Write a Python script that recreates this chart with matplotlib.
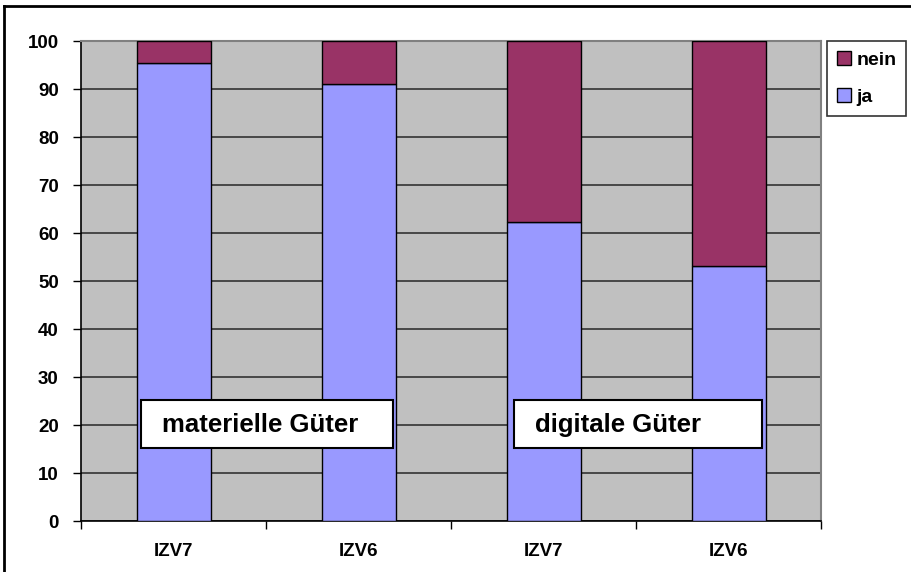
import matplotlib
matplotlib.use("Agg")
import matplotlib.pyplot as plt
from matplotlib.patches import Patch
from matplotlib.lines import Line2D
import numpy as np

categories = ["IZV7", "IZV6", "IZV7", "IZV6"]
ja = [95.4, 91.0, 62.2, 53.2]
nein = [100 - v for v in ja]
box_labels = ["materielle Güter", "digitale Güter"]

C_JA = "#9999FF"
C_NEIN = "#993366"

plt.rcParams["font.family"] = ["Liberation Sans", "DejaVu Sans"]
plt.rcParams["font.weight"] = "bold"

fig = plt.figure(figsize=(9.11, 5.72), dpi=100)
ax = fig.add_axes([81 / 911, 51 / 572, 740 / 911, 480 / 572])
ax.set_facecolor("#C0C0C0")

x = np.arange(len(categories))
ax.bar(x, ja, width=0.4, color=C_JA, edgecolor="black", linewidth=1, zorder=3)
ax.bar(x, nein, width=0.4, bottom=ja, color=C_NEIN, edgecolor="black", linewidth=1, zorder=3)

ax.set_xlim(-0.5, len(categories) - 0.5)
ax.set_ylim(0, 100)
ax.set_yticks(range(0, 101, 10))
ax.yaxis.grid(True, color="#333333", linewidth=1.2, zorder=1)
ax.set_axisbelow(True)

ax.set_xticks(x)
ax.set_xticklabels(categories, fontsize=13.5, fontweight="bold")
ax.set_xticks(np.arange(-0.5, len(categories)), minor=True)
ax.tick_params(axis="x", which="major", length=0, pad=16)
ax.tick_params(axis="x", which="minor", length=6, width=1, direction="out")
ax.tick_params(axis="y", length=6, width=1, direction="out", pad=10, labelsize=13.5)
for lab in ax.get_yticklabels():
    lab.set_fontweight("bold")

for side in ["top", "right"]:
    ax.spines[side].set_color("#808080")
    ax.spines[side].set_linewidth(1.5)
for side in ["left", "bottom"]:
    ax.spines[side].set_color("black")
    ax.spines[side].set_linewidth(1.2)

# text boxes
box_pos = [(141, 400, 252, 48), (514, 400, 248, 48)]
for (bx, by, bw, bh), txt in zip(box_pos, box_labels):
    fig.patches.append(plt.Rectangle((bx / 911, 1 - (by + bh) / 572), bw / 911, bh / 572,
                                     transform=fig.transFigure, facecolor="white",
                                     edgecolor="black", linewidth=1.5, zorder=5))
    fig.text((bx + 21) / 911, 1 - (by + bh / 2 + 1) / 572, txt, fontsize=18.5,
             fontweight="bold", ha="left", va="center", zorder=6)

handles = [Patch(facecolor=C_NEIN, edgecolor="black"), Patch(facecolor=C_JA, edgecolor="black")]
leg = fig.legend(handles, ["nein", "ja"], loc="upper left",
                 bbox_to_anchor=(827 / 911, 1 - 41 / 572), frameon=True, fancybox=False,
                 prop={"size": 14, "weight": "bold"}, handlelength=0.75, handleheight=0.75,
                 handletextpad=0.25, labelspacing=1.0, borderpad=0.5, borderaxespad=0)
leg.get_frame().set_edgecolor("black")
leg.get_frame().set_linewidth(1.2)

# figure border (left and top visible)
fig.lines.append(Line2D([4 / 911, 4 / 911], [0, 1 - 6 / 572], transform=fig.transFigure,
                        color="black", linewidth=2))
fig.lines.append(Line2D([4 / 911, 1], [1 - 6 / 572, 1 - 6 / 572], transform=fig.transFigure,
                        color="black", linewidth=2))

fig.savefig("out.png", dpi=100)
